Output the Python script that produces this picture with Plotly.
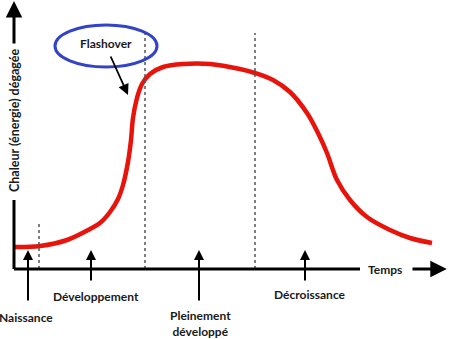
import plotly.graph_objects as go

# Heat-release curve of a fire (time in arbitrary units, heat in arbitrary units)
temps = [0.25, 6.5, 13.25, 19, 21.5, 24, 26, 27.25, 28.5, 29.25, 29.75, 30.75, 32, 34,
         37.25, 42.25, 49, 56.5, 60.25, 64.75, 69, 73.25, 76, 78.25, 80.75, 84, 88.25,
         94, 99, 104.5]
chaleur = [11, 11.5, 14.5, 20, 23, 28.5, 35, 42, 53.5, 64.5, 75.5, 85.5, 92.5, 97.5,
           101, 102.5, 102.5, 100, 98, 94.5, 88.5, 78, 68, 58, 44.5, 34.5, 26,
           19.5, 15.5, 13]

# Phase boundaries (dotted lines) and phase labels
limites_t = [6.25, 32.75, 60.25]
limites_haut = [23, 118, 118]
phases = ["Naissance", "Développement", "Pleinement<br>développé", "Décroissance"]
phases_t = [3.5, 19.25, 46.25, 72.75]

titre_y = "Chaleur (énergie) dégagée"
titre_x = "Temps"
flashover = "Flashover"

FONT = "Lato"
TXT = "#1a1a1a"
RED = "#e8140c"

fig = go.Figure()
fig.add_trace(go.Scatter(x=temps, y=chaleur, mode="lines",
                         line=dict(color=RED, width=4.5, shape="spline", smoothing=1),
                         hoverinfo="skip", showlegend=False))

shapes = []
for t, top in zip(limites_t, limites_haut):
    shapes.append(dict(type="line", xref="x", yref="y", x0=t, x1=t, y0=0, y1=top,
                       line=dict(color="#555555", width=1.5, dash="dot")))
# axes
shapes.append(dict(type="line", xref="x", yref="y", x0=0, x1=86.5, y0=0, y1=0,
                   line=dict(color="black", width=3)))
shapes.append(dict(type="line", xref="x", yref="y", x0=0, x1=0, y0=0, y1=34.5,
                   line=dict(color="black", width=3)))
# flashover ellipse
shapes.append(dict(type="circle", xref="x", yref="y", x0=10.25, x1=35.75, y0=101, y1=122,
                   line=dict(color="#3343c8", width=3)))

ann = []
# y axis arrow
ann.append(dict(x=0, y=134, ax=0, ay=112, xref="x", yref="y", axref="x", ayref="y",
                text="", showarrow=True, arrowhead=2, arrowsize=1.1, arrowwidth=3,
                arrowcolor="black"))
# x axis arrow
ann.append(dict(x=108.2, y=0, ax=99.25, ay=0, xref="x", yref="y", axref="x", ayref="y",
                text="", showarrow=True, arrowhead=2, arrowsize=1.1, arrowwidth=3,
                arrowcolor="black"))
ann.append(dict(x=0, y=74, xref="x", yref="y", text=titre_y, textangle=-90, showarrow=False,
                font=dict(family=FONT, size=12.5, color=TXT, weight="bold")))
ann.append(dict(x=92.75, y=0, xref="x", yref="y", text=titre_x, showarrow=False,
                font=dict(family=FONT, size=12, color=TXT, weight="bold")))
# phase arrows + labels
tails = [-16.5, -6.5, -16.5, -6.5]
label_y = [-24, -13.5, -27, -12.5]
label_dx = [-0.5, 1.25, 0.25, 1.25]
for t, lab, tail, ly, dx in zip(phases_t, phases, tails, label_y, label_dx):
    ann.append(dict(x=t, y=9.5, ax=t, ay=tail, xref="x", yref="y", axref="x", ayref="y",
                    text="", showarrow=True, arrowhead=2, arrowsize=1, arrowwidth=2,
                    arrowcolor="black"))
    ann.append(dict(x=t + dx, y=ly, xref="x", yref="y", text=lab, showarrow=False,
                    font=dict(family=FONT, size=12, color=TXT, weight="bold")))
# flashover label and arrow
ann.append(dict(x=23, y=113, xref="x", yref="y", text=flashover, showarrow=False,
                font=dict(family=FONT, size=12, color=TXT, weight="bold")))
ann.append(dict(x=28.5, y=87, ax=24, ay=107, xref="x", yref="y", axref="x", ayref="y",
                text="", showarrow=True, arrowhead=2, arrowsize=1.2, arrowwidth=1.8,
                arrowcolor="black"))

fig.update_layout(width=456, height=339, margin=dict(l=0, r=0, t=0, b=0),
                  paper_bgcolor="white", plot_bgcolor="white",
                  shapes=shapes, annotations=ann,
                  xaxis=dict(range=[-3.5, 110.5], visible=False, fixedrange=True),
                  yaxis=dict(range=[-35, 134.5], visible=False, fixedrange=True))
fig.write_html("out.html")
